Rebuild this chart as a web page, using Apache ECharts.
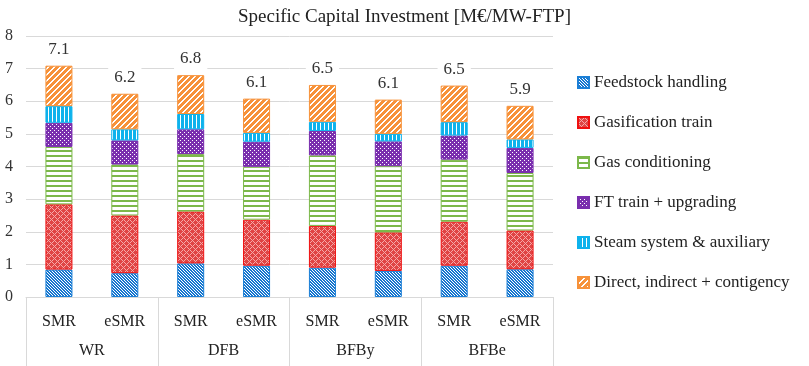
<!DOCTYPE html>
<html>
<head>
<meta charset="utf-8">
<script src="https://cdn.jsdelivr.net/npm/echarts@6/dist/echarts.min.js"></script>
<style>
  html, body { margin: 0; padding: 0; background: #fff; }
  #chart { width: 809px; height: 366px; }
</style>
</head>
<body>
<div id="chart"></div>
<script>
// configurations (bottom row) and gasifier groups (second row)
const configs = ['SMR', 'eSMR', 'SMR', 'eSMR', 'SMR', 'eSMR', 'SMR', 'eSMR'];
const groups = ['WR', 'DFB', 'BFBy', 'BFBe'];

// cost items, M€/MW-FTP
const feedstock = [0.84, 0.73, 1.03, 0.96, 0.90, 0.80, 0.96, 0.85];
const gasification = [2.00, 1.77, 1.59, 1.41, 1.28, 1.18, 1.35, 1.19];
const gasConditioning = [1.76, 1.56, 1.76, 1.62, 2.16, 2.03, 1.90, 1.76];
const ftTrain = [0.74, 0.74, 0.76, 0.77, 0.75, 0.76, 0.74, 0.77];
const steamSystem = [0.51, 0.34, 0.47, 0.27, 0.28, 0.23, 0.41, 0.26];
const directIndirect = [1.24, 1.09, 1.19, 1.05, 1.13, 1.05, 1.12, 1.03];
const totals = ['7.1', '6.2', '6.8', '6.1', '6.5', '6.1', '6.5', '5.9'];

const FONT = '"Liberation Serif", "DejaVu Serif", serif';

// small repeating tiles to mimic the Excel pattern fills
function tile(w, h, bg, fg, test) {
  const c = document.createElement('canvas');
  c.width = w; c.height = h;
  const ctx = c.getContext('2d');
  ctx.fillStyle = bg;
  ctx.fillRect(0, 0, w, h);
  ctx.fillStyle = fg;
  for (let x = 0; x < w; x++) {
    for (let y = 0; y < h; y++) {
      if (test(x, y)) ctx.fillRect(x, y, 1, 1);
    }
  }
  return { image: c, repeat: 'repeat' };
}

const patterns = {
  blue: tile(3, 3, '#1676CF', '#ffffff', (x, y) => x === y),
  red: tile(6, 6, '#E04444', '#F5A8A8', (x, y) => (x + y) % 6 === 0 || (x - y + 6) % 6 === 0),
  green: tile(1, 5, '#ffffff', '#7CB84A', (x, y) => y < 2),
  purple: tile(4, 4, '#7A2EAE', '#ffffff', (x, y) => (Math.floor(x / 2) + Math.floor(y / 2)) % 2 === 0 && x % 2 === 0 && y % 2 === 0),
  cyan: tile(4, 1, '#0EB2EC', '#ffffff', (x) => x === 0),
  orange: tile(6, 6, '#F7923A', '#ffffff', (x, y) => (x + y) % 6 < 2)
};

function barSeries(name, data, pattern, border) {
  return {
    name: name,
    type: 'bar',
    stack: 'total',
    xAxisIndex: 0,
    barWidth: '41%',
    itemStyle: { color: pattern, borderColor: border, borderWidth: 1 },
    emphasis: { disabled: true },
    data: data
  };
}

const series = [
  barSeries('Feedstock handling', feedstock, patterns.blue, '#1B7FD6'),
  barSeries('Gasification train', gasification, patterns.red, '#F01010'),
  barSeries('Gas conditioning', gasConditioning, patterns.green, '#7CB84A'),
  barSeries('FT train + upgrading', ftTrain, patterns.purple, '#7A2EAE'),
  barSeries('Steam system & auxiliary', steamSystem, patterns.cyan, '#0EB2EC'),
  barSeries('Direct, indirect + contigency', directIndirect, patterns.orange, '#F7923A')
];
// total on top of each stack
series[5].label = {
  show: true,
  position: 'top',
  distance: 6,
  formatter: (p) => totals[p.dataIndex],
  fontFamily: FONT,
  fontWeight: 'normal',
  fontSize: 17,
  color: '#333',
  backgroundColor: '#fff',
  padding: [2, 6]
};

const chart = echarts.init(document.getElementById('chart'));
chart.setOption({
  animation: false,
  textStyle: { fontFamily: FONT },
  title: {
    text: 'Specific Capital Investment [M€/MW-FTP]',
    left: 'center',
    top: 3,
    textStyle: { fontFamily: FONT, fontSize: 19, fontWeight: 'normal', color: '#222' }
  },
  legend: {
    orient: 'vertical',
    left: 572,
    top: 69,
    icon: 'rect',
    itemWidth: 11,
    itemHeight: 11,
    itemGap: 23,
    textStyle: { fontFamily: FONT, fontWeight: 'normal', fontSize: 17, color: '#222', lineHeight: 17 },
    data: series.map((s) => s.name)
  },
  grid: { left: 26, right: 256, top: 36, bottom: 69 },
  xAxis: [
    {
      type: 'category',
      data: configs,
      position: 'bottom',
      axisLine: { show: true, lineStyle: { color: '#d9d9d9' } },
      axisTick: { show: false },
      axisLabel: { interval: 0, margin: 17, fontFamily: FONT, fontWeight: 'normal', fontSize: 16, color: '#222' }
    },
    {
      type: 'category',
      data: groups,
      position: 'bottom',
      axisLine: { show: false },
      axisTick: { show: true, interval: 0, length: 70, lineStyle: { color: '#d9d9d9' } },
      axisLabel: { interval: 0, margin: 46, fontFamily: FONT, fontWeight: 'normal', fontSize: 16, color: '#222' }
    }
  ],
  yAxis: {
    type: 'value',
    min: 0,
    max: 8,
    interval: 1,
    axisLine: { show: false },
    axisTick: { show: false },
    axisLabel: { margin: 13, fontFamily: FONT, fontWeight: 'normal', fontSize: 16, color: '#333' },
    splitLine: { lineStyle: { color: '#d9d9d9' } }
  },
  series: series
});
</script>
</body>
</html>
